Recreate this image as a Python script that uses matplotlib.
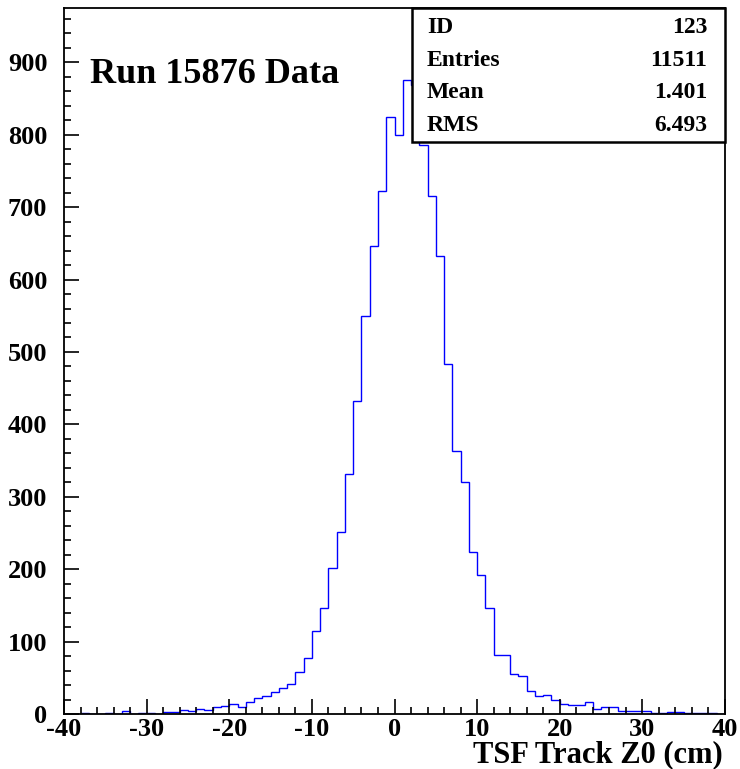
import numpy as np
import matplotlib
matplotlib.use("Agg")
import matplotlib.pyplot as plt
from matplotlib.patches import Rectangle

# bin edges -40..40, 1 cm bins
edges = np.arange(-40, 41, 1)
counts = [0, 0, 1, 0, 0, 1, 0, 4, 0, 2,
          1, 0, 3, 3, 6, 4, 7, 5, 10, 11,
          14, 9, 16, 22, 25, 31, 36, 42, 58, 78,
          115, 147, 202, 251, 332, 432, 549, 647, 722, 825,
          799, 876, 868, 786, 716, 633, 483, 363, 320, 224,
          192, 147, 82, 81, 55, 53, 32, 25, 26, 19,
          14, 12, 13, 17, 7, 9, 10, 4, 4, 4,
          4, 2, 2, 3, 3, 2, 2, 1, 1, 0]

stat_names = ["ID", "Entries", "Mean", "RMS"]
stat_vals = ["123", "11511", "1.401", "6.493"]

W, H = 740, 769
plt.rcParams["font.family"] = ["Liberation Serif", "DejaVu Serif"]
plt.rcParams["font.weight"] = "bold"
plt.rcParams["axes.unicode_minus"] = False
fig = plt.figure(figsize=(W / 100, H / 100), dpi=100)

ax = fig.add_axes([64 / W, (H - 714) / H, 661 / W, 706 / H])
ax.stairs(counts, edges, color="#0000ff", linewidth=1.0)
ax.set_xlim(-40, 40)
ax.set_ylim(0, 975)

ax.set_xticks(np.arange(-40, 41, 10))
ax.set_xticks(np.arange(-40, 41, 2), minor=True)
ax.set_yticks(np.arange(0, 901, 100))
ax.set_yticks(np.arange(0, 975, 20), minor=True)
ax.tick_params(which="both", direction="in", width=1.2, labelsize=19)
ax.tick_params(which="major", length=11)
ax.tick_params(which="minor", length=5)
ax.tick_params(axis="x", pad=3)
ax.tick_params(axis="y", pad=12)
for lab in ax.get_xticklabels() + ax.get_yticklabels():
    lab.set_fontweight("bold")
for s in ax.spines.values():
    s.set_linewidth(1.3)

fig.text(90 / W, 1 - 83 / H, "Run 15876 Data", fontsize=26, fontweight="bold",
         ha="left", va="baseline")

# stats box
x0, x1, y0, y1 = 412, 725, 8, 142
fig.patches.append(Rectangle((x0 / W, 1 - y1 / H), (x1 - x0) / W, (y1 - y0) / H,
                             transform=fig.transFigure, facecolor="white",
                             edgecolor="black", linewidth=1.8, zorder=5))
for i, (n, v) in enumerate(zip(stat_names, stat_vals)):
    yb = 1 - (33 + i * 32.7) / H
    fig.text(427 / W, yb, n, fontsize=17, fontweight="bold", ha="left", va="baseline", zorder=6)
    fig.text(707 / W, yb, v, fontsize=17, fontweight="bold", ha="right", va="baseline", zorder=6)

fig.text(723 / W, 1 - 762 / H, "TSF Track Z0 (cm)", fontsize=22, fontweight="bold",
         ha="right", va="baseline")

fig.savefig("out.png", dpi=100)
